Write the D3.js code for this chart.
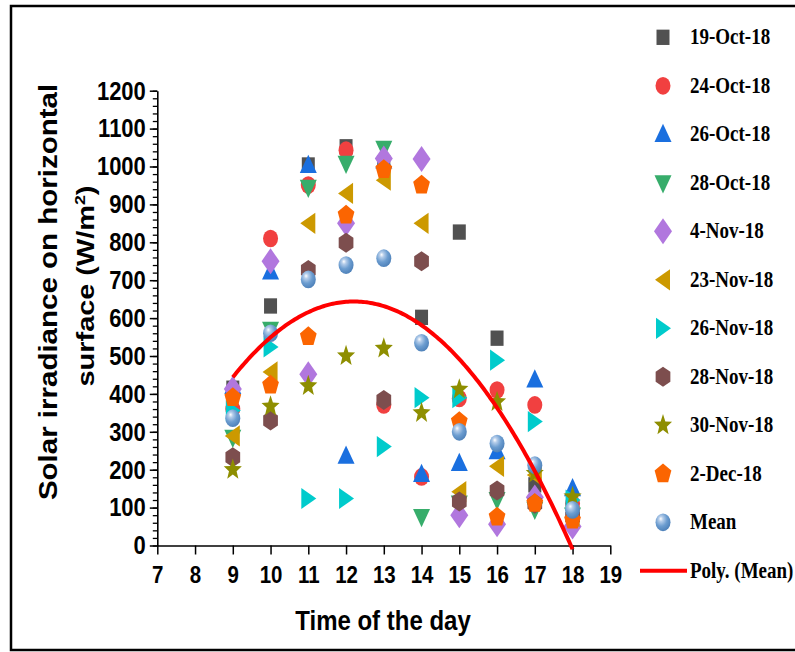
<!DOCTYPE html>
<html>
<head>
<meta charset="utf-8">
<script src="https://cdn.jsdelivr.net/npm/d3@7"></script>
<style>
  body { margin: 0; background: #fff; }
  svg { display: block; }
</style>
</head>
<body>
<div id="chart"></div>
<script>
// hours of the day on the x axis
const hours = [9, 10, 11, 12, 13, 14, 15, 16, 17, 18];

// irradiance readings (W/m2) per day
const oct19 = [415, 632, 1004, 1052, 1010, 602, 827, 547, 160, 85];
const oct24 = [360, 810, 951, 1043, 371, 181, 388, 410, 371, 111];
const oct26 = [420, 722, 1003, 236, 1015, 188, 217, 248, 437, 150];
const oct28 = [285, 570, 945, 1008, 1048, 76, 112, 121, 95, 80];
const nov4 = [413, 750, 452, 850, 1021, 1020, 80, 56, 127, 50];
const nov23 = [289, 458, 850, 929, 964, 850, 142, 209, 186, 76];
const nov26 = [356, 524, 124, 124, 261, 390, 390, 489, 327, 120];
const nov28 = [233, 330, 727, 799, 384, 750, 116, 145, 110, 75];
const nov30 = [200, 367, 421, 500, 520, 350, 412, 379, 190, 128];
const dec2 = [390, 423, 551, 872, 992, 951, 327, 75, 111, 67];
const meanVals = [336, 560, 702, 740, 758, 535, 300, 269, 212, 94];

const seriesNames = ["19-Oct-18", "24-Oct-18", "26-Oct-18", "28-Oct-18", "4-Nov-18",
  "23-Nov-18", "26-Nov-18", "28-Nov-18", "30-Nov-18", "2-Dec-18", "Mean"];
const seriesValues = [oct19, oct24, oct26, oct28, nov4, nov23, nov26, nov28, nov30, dec2, meanVals];
const seriesColors = ["#515151", "#F14040", "#1A6FDF", "#37AD6B", "#B177DE",
  "#CC9900", "#00CBCC", "#7D4E4E", "#8E8E00", "#FB6501", "#6699CC"];
const seriesShapes = ["square", "circle", "up", "down", "diamond",
  "left", "right", "hexagon", "star", "pentagon", "sphere"];
const trendName = "Poly. (Mean)";

const xTicks = [7, 8, 9, 10, 11, 12, 13, 14, 15, 16, 17, 18, 19];
const yTicks = [0, 100, 200, 300, 400, 500, 600, 700, 800, 900, 1000, 1100, 1200];
const yMinorTicks = d3.range(0, 1201, 20);

const xTitle = "Time of the day";
const yTitle1 = "Solar irradiance on horizontal";
const yTitle2 = "surface (W/m";

const W = 795, H = 652;
const STRETCH = 1.18; // the original picture is a bit taller than wide

const svg = d3.select("#chart").append("svg")
  .attr("width", W).attr("height", H);

// sphere gradient for the Mean marker
const defs = svg.append("defs");
const grad = defs.append("radialGradient").attr("id", "sphere")
  .attr("cx", "40%").attr("cy", "35%").attr("r", "65%")
  .attr("fx", "35%").attr("fy", "30%");
grad.append("stop").attr("offset", "0%").attr("stop-color", "#ffffff");
grad.append("stop").attr("offset", "22%").attr("stop-color", "#b5cdea");
grad.append("stop").attr("offset", "60%").attr("stop-color", "#6c9dd0");
grad.append("stop").attr("offset", "100%").attr("stop-color", "#4f82ba");

// outer frame
svg.append("rect")
  .attr("x", 11).attr("y", 6).attr("width", 800).attr("height", 644)
  .attr("fill", "none").attr("stroke", "#000").attr("stroke-width", 2.5);

const x = d3.scaleLinear().domain([7, 19]).range([157.3, 610.3]);
const y = d3.scaleLinear().domain([0, 1200]).range([545.5, 90.7]);

// marker shapes, r is roughly half the width
function poly(ctx, pts) {
  ctx.moveTo(pts[0][0], pts[0][1]);
  pts.slice(1).forEach(p => ctx.lineTo(p[0], p[1]));
  ctx.closePath();
}
function ngon(n, r, start) {
  return d3.range(n).map(i => {
    const a = start + i * 2 * Math.PI / n;
    return [r * Math.cos(a), r * Math.sin(a)];
  });
}
const shapeTypes = {
  square: { draw(ctx, r) { ctx.rect(-6.5, -6.5, 13, 13); } },
  circle: { draw(ctx, r) { ctx.moveTo(7.5, 0); ctx.arc(0, 0, 7.5, 0, 2 * Math.PI); } },
  sphere: { draw(ctx, r) { ctx.moveTo(7.5, 0); ctx.arc(0, 0, 7.5, 0, 2 * Math.PI); } },
  up: { draw(ctx) { poly(ctx, [[0, -9], [8.5, 6.5], [-8.5, 6.5]]); } },
  down: { draw(ctx) { poly(ctx, [[0, 9], [8.5, -6.5], [-8.5, -6.5]]); } },
  left: { draw(ctx) { poly(ctx, [[-8, 0], [7, -9], [7, 9]]); } },
  right: { draw(ctx) { poly(ctx, [[8, 0], [-7, -9], [-7, 9]]); } },
  diamond: { draw(ctx) { poly(ctx, [[0, -11], [9, 0], [0, 11], [-9, 0]]); } },
  hexagon: { draw(ctx) { poly(ctx, ngon(6, 8.5, -Math.PI / 2)); } },
  pentagon: { draw(ctx) { poly(ctx, ngon(5, 8.8, -Math.PI / 2)); } },
  star: { draw(ctx) {
    const pts = d3.range(10).map(i => {
      const rr = i % 2 === 0 ? 9.5 : 4;
      const a = -Math.PI / 2 + i * Math.PI / 5;
      return [rr * Math.cos(a), rr * Math.sin(a)];
    });
    poly(ctx, pts);
  } }
};

function drawMarker(g, shape, color, cx, cy) {
  const path = d3.symbol().type(shapeTypes[shape]).size(8)();
  g.append("path")
    .attr("d", path)
    .attr("transform", `translate(${cx},${cy}) scale(1,${STRETCH})`)
    .attr("fill", shape === "sphere" ? "url(#sphere)" : color);
}

// axes
const fontSans = "'Liberation Sans', Arial, sans-serif";
const fontSerif = "'Liberation Serif', 'Times New Roman', serif";

const yMinor = svg.append("g")
  .attr("transform", `translate(${x(7)},0)`)
  .call(d3.axisLeft(y).tickValues(yMinorTicks).tickSize(4.5).tickFormat(""));
yMinor.select(".domain").remove();
yMinor.selectAll("line").attr("stroke-width", 1.3);

const yAxis = svg.append("g")
  .attr("transform", `translate(${x(7)},0)`)
  .call(d3.axisLeft(y).tickValues(yTicks).tickFormat(d3.format("d"))
    .tickSize(7.5).tickPadding(4).tickSizeOuter(0));
yAxis.select(".domain").attr("stroke-width", 1.6);
yAxis.selectAll("line").attr("stroke-width", 1.5);
yAxis.selectAll("text")
  .attr("font-family", fontSans).attr("font-weight", "bold").attr("font-size", 22)
  .attr("fill", "#000")
  .attr("transform", `scale(1,${STRETCH})`);

const xAxis = svg.append("g")
  .attr("transform", `translate(0,${y(0)})`)
  .call(d3.axisBottom(x).tickValues(xTicks).tickFormat(d3.format("d"))
    .tickSize(9).tickPadding(8).tickSizeOuter(0));
xAxis.select(".domain").attr("stroke-width", 1.6);
xAxis.selectAll("line").attr("stroke-width", 1.5);
xAxis.selectAll("text")
  .attr("font-family", fontSans).attr("font-weight", "bold").attr("font-size", 20.5)
  .attr("fill", "#000")
  .attr("transform", `scale(1,${STRETCH})`);

// axis titles
svg.append("text")
  .attr("transform", `translate(383,630) scale(1,${STRETCH})`)
  .attr("text-anchor", "middle")
  .attr("font-family", fontSans).attr("font-weight", "bold").attr("font-size", 24)
  .text(xTitle);

svg.append("text")
  .attr("transform", `translate(57,292) rotate(-90) scale(${STRETCH},1)`)
  .attr("text-anchor", "middle")
  .attr("font-family", fontSans).attr("font-weight", "bold").attr("font-size", 25)
  .text(yTitle1);

const t2 = svg.append("text")
  .attr("transform", `translate(94,286) rotate(-90) scale(${STRETCH},1)`)
  .attr("text-anchor", "middle")
  .attr("font-family", fontSans).attr("font-weight", "bold").attr("font-size", 24.5);
t2.append("tspan").text(yTitle2);
t2.append("tspan").attr("font-size", 15).attr("dy", -9).text("2");
t2.append("tspan").attr("dy", 9).text(")");

// scatter markers, later series drawn on top
const marks = svg.append("g");
seriesValues.forEach((vals, si) => {
  vals.forEach((v, i) => {
    drawMarker(marks, seriesShapes[si], seriesColors[si], x(hours[i]), y(v));
  });
});

// 2nd order polynomial least squares fit of the mean
function quadFit(xs, ys) {
  const S = k => d3.sum(xs, v => Math.pow(v, k));
  const T = k => d3.sum(xs, (v, i) => Math.pow(v, k) * ys[i]);
  const A = [[S(0), S(1), S(2)], [S(1), S(2), S(3)], [S(2), S(3), S(4)]];
  const b = [T(0), T(1), T(2)];
  // gaussian elimination
  for (let c = 0; c < 3; c++) {
    for (let r = c + 1; r < 3; r++) {
      const f = A[r][c] / A[c][c];
      for (let k = c; k < 3; k++) A[r][k] -= f * A[c][k];
      b[r] -= f * b[c];
    }
  }
  const coef = [0, 0, 0];
  for (let r = 2; r >= 0; r--) {
    let s = b[r];
    for (let k = r + 1; k < 3; k++) s -= A[r][k] * coef[k];
    coef[r] = s / A[r][r];
  }
  return t => coef[0] + coef[1] * t + coef[2] * t * t;
}
const fit = quadFit(hours, meanVals);
const fitPts = d3.range(hours[0], hours[hours.length - 1] + 0.001, 0.05).map(t => [t, fit(t)]);
svg.append("path")
  .datum(fitPts)
  .attr("fill", "none").attr("stroke", "#FF0000").attr("stroke-width", 4)
  .attr("d", d3.line().x(d => x(d[0])).y(d => y(d[1])));

// legend
const legend = svg.append("g");
const rowY = i => 37.3 + i * 48.5;
seriesNames.forEach((name, i) => {
  drawMarker(legend, seriesShapes[i], seriesColors[i], 663, rowY(i));
  legend.append("text")
    .attr("transform", `translate(690,${rowY(i) + 7}) scale(1,${STRETCH})`)
    .attr("font-family", fontSerif).attr("font-weight", "bold").attr("font-size", 19)
    .text(name);
});
const ly = rowY(seriesNames.length);
legend.append("line")
  .attr("x1", 640).attr("x2", 687).attr("y1", ly).attr("y2", ly)
  .attr("stroke", "#FF0000").attr("stroke-width", 4);
legend.append("text")
  .attr("transform", `translate(690,${ly + 7}) scale(1,${STRETCH})`)
  .attr("font-family", fontSerif).attr("font-weight", "bold").attr("font-size", 19)
  .text(trendName);
</script>
</body>
</html>
